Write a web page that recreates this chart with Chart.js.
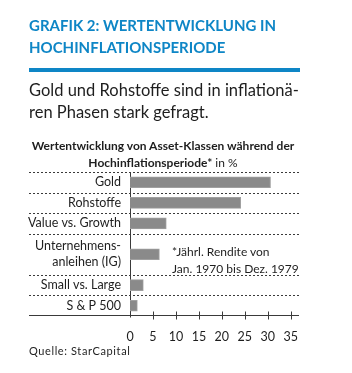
<!DOCTYPE html>
<html>
<head>
<meta charset="utf-8">
<script src="https://cdn.jsdelivr.net/npm/chart.js@4/dist/chart.umd.min.js"></script>
<style>
	body { margin: 0; background: #fff; }
	#wrap { position: relative; width: 352px; height: 373px; font-family: Lato, sans-serif; color: #1e1e1e; }
	#wrap div { position: absolute; white-space: nowrap; }
	.title { left: 29px; top: 14px; color: #0e86c6; font-weight: bold; font-size: 15px; line-height: 22px; }
	.rule { left: 29px; top: 68px; width: 271px; height: 4px; background: #0e86c6; }
	.sub { left: 29px; top: 79px; font-size: 16.5px; line-height: 22px; }
	.ctitle { left: 0; width: 326px; top: 137px; text-align: center; font-size: 12px; line-height: 17px; }
	.note { left: 172px; top: 243px; font-size: 12px; line-height: 17px; }
	.src { left: 29px; top: 344px; font-size: 11px; letter-spacing: 0.6px; }
</style>
</head>
<body>
<div id="wrap">
	<canvas id="chart" width="352" height="373"></canvas>
	<div class="title">GRAFIK 2: WERTENTWICKLUNG IN<br>HOCHINFLATIONSPERIODE</div>
	<div class="rule"></div>
	<div class="sub">Gold und Rohstoffe sind in inflationä-<br>ren Phasen stark gefragt.</div>
	<div class="ctitle"><b>Wertentwicklung von Asset-Klassen während der<br>Hochinflationsperiode*</b> in %</div>
	<div class="note">*Jährl. Rendite von<br>Jan. 1970 bis Dez. 1979</div>
	<div class="src">Quelle: StarCapital</div>
</div>
<script>
// categories and values (% p.a.)
const labels = ['Gold', 'Rohstoffe', 'Value vs. Growth', ['Unternehmens-', 'anleihen (IG)'], 'Small vs. Large', 'S & P 500'];
const values = [30.6, 24.1, 7.9, 6.4, 2.9, 1.6];
// row centres on the y scale (the corporate bond row is twice as tall)
const rowPos = [0.5, 1.5, 2.5, 4, 5.5, 6.5];
const rowLines = [0, 1, 2, 3, 5, 6];
const xTicks = [0, 5, 10, 15, 20, 25, 30, 35];

const lines = {
	id: 'lines',
	afterDatasetsDraw(chart) {
		const { ctx, chartArea, scales: { x, y } } = chart;
		ctx.save();
		ctx.strokeStyle = '#3a3a3a';
		ctx.lineWidth = 1;
		ctx.setLineDash([2, 2]);
		rowLines.forEach(v => {
			const py = Math.round(y.getPixelForValue(v)) + 0.5;
			ctx.beginPath();
			ctx.moveTo(29, py);
			ctx.lineTo(chartArea.right, py);
			ctx.stroke();
		});
		ctx.setLineDash([]);
		const by = Math.round(y.getPixelForValue(7)) - 0.5;
		ctx.beginPath();
		ctx.moveTo(29, by);
		ctx.lineTo(chartArea.right, by);
		ctx.stroke();
		xTicks.forEach(v => {
			const px = Math.round(x.getPixelForValue(v)) + 0.5;
			ctx.beginPath();
			ctx.moveTo(px, by - 4);
			ctx.lineTo(px, by + (v === 0 ? 2 : 4));
			ctx.stroke();
		});
		ctx.restore();
	}
};

new Chart(document.getElementById('chart'), {
	type: 'bar',
	data: {
		datasets: [{
			data: values.map((v, i) => ({ x: v, y: rowPos[i] })),
			backgroundColor: '#8a8a8a',
			borderColor: '#a0a0a0',
			borderWidth: 1,
			barThickness: 11,
		}],
	},
	options: {
		indexAxis: 'y',
		responsive: false,
		animation: false,
		layout: { padding: { top: 172, right: 53, bottom: 17, left: 0 } },
		plugins: { legend: { display: false }, tooltip: { enabled: false } },
		scales: {
			x: {
				type: 'linear',
				min: 0,
				max: 36.8,
				afterBuildTicks: s => { s.ticks = xTicks.map(v => ({ value: v })); },
				afterFit: s => { s.height = 40; },
				grid: { display: false },
				border: { display: false },
				ticks: { color: '#1e1e1e', font: { family: 'Lato', size: 12.5 }, padding: 5, maxRotation: 0, autoSkip: false },
			},
			y: {
				type: 'linear',
				min: 0,
				max: 7,
				reverse: true,
				offset: false,
				afterBuildTicks: s => { s.ticks = rowPos.map(v => ({ value: v })); },
				afterFit: s => { s.width = 130; },
				grid: { display: true, drawOnChartArea: false, drawTicks: false, offset: false },
				border: { display: true, color: '#3a3a3a', width: 1 },
				ticks: {
					color: '#1e1e1e',
					font: { family: 'Lato', size: 12.5, lineHeight: 1.3 },
					padding: 9,
					autoSkip: false,
					callback: (v, i) => labels[i],
				},
			},
		},
	},
	plugins: [lines],
});
</script>
</body>
</html>
